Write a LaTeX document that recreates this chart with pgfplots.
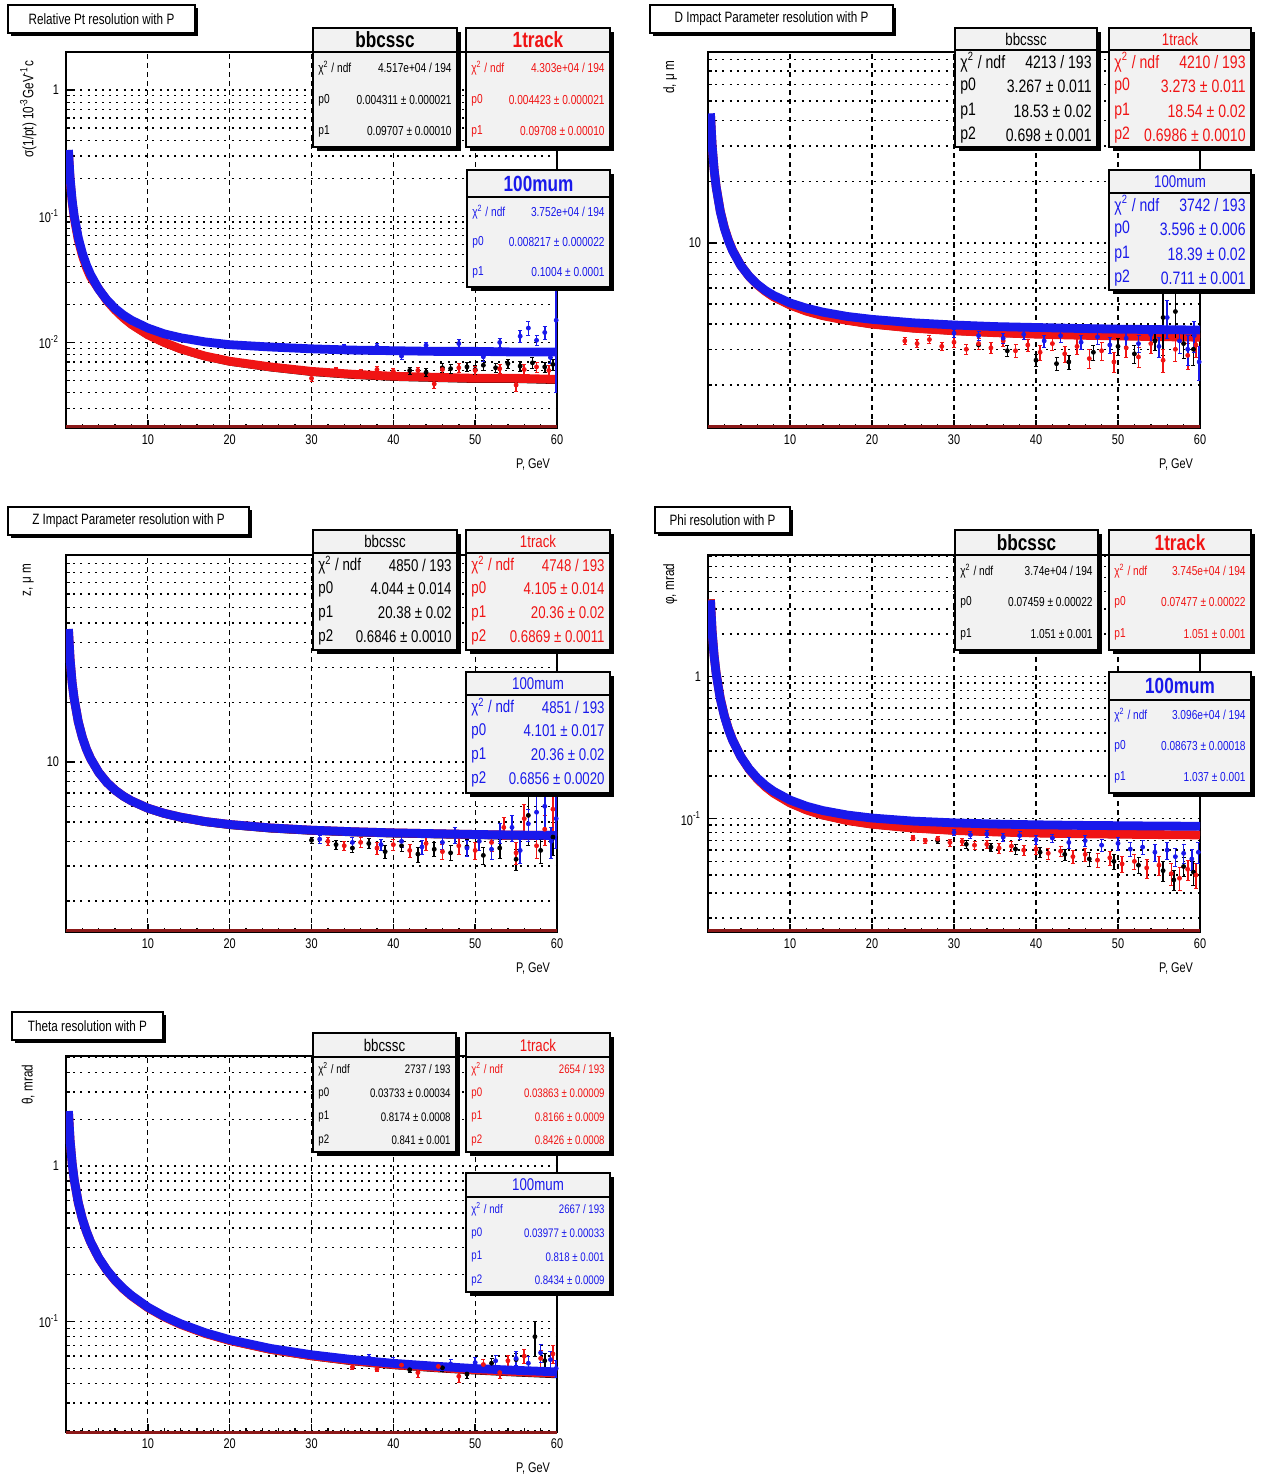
\documentclass[border=0pt]{standalone}
\usepackage{fontspec}
\setmainfont{Liberation Sans}[FakeStretch=0.78]
\usepackage{pgfplots}
\pgfplotsset{compat=1.18}
\definecolor{rred}{RGB}{240,20,20}
\definecolor{rblue}{RGB}{25,25,235}
\definecolor{fred}{RGB}{140,25,25}
\definecolor{boxgray}{RGB}{242,242,242}

\pgfplotsset{every axis/.append style={scale only axis, xmin=0, xmax=60, ymode=log,
  xtick={0,10,...,60}, xticklabels={,10,20,30,40,50,60}, minor x tick num=4,
  tick align=inside, xtick pos=left, ytick pos=left,
  major tick length=4pt, minor tick length=2.2pt,
  xmajorgrids=true, ymajorgrids=true, yminorgrids=true,
  axis line style={black, line width=1pt},
  tick style={black, line width=0.7pt},
  ticklabel style={font=\fontsize{7}{8}\selectfont},
  xlabel={P, GeV}}}
\pgfplotsset{every axis x grid/.append style={black, dash pattern=on 2.5pt off 2pt, line width=0.6pt},
  every axis y grid/.append style={black, dash pattern=on 1pt off 2.6pt, line width=0.7pt},
  every axis x label/.style={at={(rel axis cs:1,0)}, anchor=north east, yshift=-12pt, font=\fontsize{7}{8}\selectfont},
  every axis y label/.style={at={(rel axis cs:-0.077,0.995)}, rotate=90, anchor=east, font=\fontsize{7.5}{8}\selectfont}}

\newcommand\titlebox[5]{%
 \fill[black] (#1+3,#2+3) rectangle (#3+3,#4+3);
 \filldraw[fill=white,draw=black,line width=0.6pt] (#1,#2) rectangle (#3,#4);
 \node[font=\fontsize{7.5}{9}\selectfont] at ({(#1+#3)/2},{(#2+#4)/2}) {#5};}
\newcommand\statframe[7]{%
 \fill[black] (#1+4,#2+4) rectangle (#3+4,#4+4);
 \filldraw[fill=boxgray,draw=black,line width=0.7pt] (#1,#2) rectangle (#3,#4);
 \draw[black,line width=0.6pt] (#1,#5) -- (#3,#5);
 \node[text=#6] at ({(#1+#3)/2},{(#2+#5)/2}) {#7};
 \gdef\sxl{#1}\gdef\sxr{#3}\gdef\scol{#6}}
\newcommand\srow[3]{%
 \node[anchor=west,text=\scol,font=\rowfont] at (\sxl+5,#1) {#2};
 \node[anchor=east,text=\scol,font=\rowfont] at (\sxr-5,#1) {#3};}
\newcommand\hbig{\fontsize{11}{12}\selectfont\bfseries}
\newcommand\hsmall{\fontsize{8.5}{10}\selectfont}
\newcommand\chilab{χ\textsuperscript{2} / ndf}

\begin{document}
\begin{tikzpicture}
\path[use as bounding box] (0,0) rectangle (632pt,-737.5pt);

% ---------------- Panel 1 ----------------
\begin{axis}[at={(33pt,-214pt)}, anchor=south west, width=245.5pt, height=188pt,
  ymin=0.0021, ymax=2.0, ytick={0.01,0.1,1}, yticklabels={10\textsuperscript{-2},10\textsuperscript{-1},1},
  minor ytick={0.003,0.004,0.005,0.006,0.007,0.008,0.009,0.02,0.03,0.04,0.05,0.06,0.07,0.08,0.09,0.2,0.3,0.4,0.5,0.6,0.7,0.8,0.9},
  ylabel={σ(1/pt) 10\textsuperscript{-3}GeV\textsuperscript{-1}c}]
\addplot[black, line width=3.6pt, line join=round, mark=none] coordinates {(0.3,0.3236)(0.5,0.1942)(0.75,0.1295)(1,0.0972)(1.5,0.0649)(2,0.0488)(2.5,0.0392)(3,0.0330)(4,0.0264)(5,0.0213)(6,0.0180)(7,0.0156)(8,0.0138)(10,0.0114)(12,0.0099)(14,0.0088)(17,0.0077)(20,0.0070)(25,0.0063)(30,0.0058)(35,0.0055)(40,0.0053)(45,0.0052)(50,0.0051)(55,0.0051)(60,0.0050)};
\addplot[rred, line width=4.4pt, line join=round, mark=none] coordinates {(0.3,0.3236)(0.5,0.1942)(0.75,0.1295)(1,0.0972)(1.5,0.0649)(2,0.0488)(2.5,0.0392)(3,0.0330)(4,0.0265)(5,0.0214)(6,0.0181)(7,0.0157)(8,0.0139)(10,0.0115)(12,0.0100)(14,0.0089)(17,0.0078)(20,0.0071)(25,0.0064)(30,0.0059)(35,0.0056)(40,0.0054)(45,0.0053)(50,0.0052)(55,0.0052)(60,0.0051)};
\addplot[black, only marks, mark=*, mark size=1pt, error bars/.cd, y dir=both, y explicit, error bar style={line width=0.8pt}] table[x=x,y=y,y error=e] {
x y e
42 0.0060 0.0004
44 0.0058 0.0004
46 0.0063 0.0005
47 0.0062 0.0005
49 0.0064 0.0005
50 0.0061 0.0005
51 0.0066 0.0006
52.5 0.0063 0.0005
54 0.0068 0.0006
55.5 0.0065 0.0006
57 0.0069 0.0007
58.5 0.0064 0.0006
59.5 0.0067 0.0007
};
\addplot[rred, only marks, mark=*, mark size=1pt, error bars/.cd, y dir=both, y explicit, error bar style={line width=0.8pt}] table[x=x,y=y,y error=e] {
x y e
30 0.0052 0.0003
33 0.0061 0.0003
36 0.0058 0.0003
38 0.0061 0.0004
40 0.0059 0.0003
43 0.0060 0.0004
45 0.0047 0.0004
46 0.0061 0.0004
48 0.0063 0.0005
50 0.0060 0.0005
53 0.0062 0.0005
55 0.0046 0.0005
56 0.0061 0.0006
57.5 0.0064 0.0006
59 0.0060 0.0006
};
\addplot[rblue, line width=4.4pt, line join=round, mark=none] coordinates {(0.3,0.3348)(0.5,0.2010)(0.75,0.1341)(1,0.1007)(1.5,0.0674)(2,0.0509)(2.5,0.0410)(3,0.0345)(4,0.0264)(5,0.0217)(6,0.0186)(7,0.0165)(8,0.0150)(10,0.0130)(12,0.0117)(14,0.0109)(17,0.0101)(20,0.0096)(25,0.0092)(30,0.0089)(35,0.0087)(40,0.0086)(45,0.0085)(50,0.0085)(55,0.0084)(60,0.0084)};
\addplot[rblue, only marks, mark=*, mark size=1pt, error bars/.cd, y dir=both, y explicit, error bar style={line width=0.8pt}] table[x=x,y=y,y error=e] {
x y e
34 0.0092 0.0005
38 0.0093 0.0005
41 0.0078 0.0005
44 0.0095 0.0006
48 0.0098 0.0007
51 0.0077 0.0006
53 0.0100 0.0008
55.5 0.0112 0.0012
56.5 0.0130 0.0016
57.5 0.0104 0.0010
58.5 0.0120 0.0015
59.2 0.0076 0.0008
59.9 0.0150 0.0110
};
\end{axis}

% ---------------- Panel 2 ----------------
\begin{axis}[at={(354pt,-214pt)}, anchor=south west, width=246pt, height=188pt,
  ymin=1.23, ymax=87, ytick={10}, yticklabels={10},
  minor ytick={2,3,4,5,6,7,8,9,20,30,40,50,60,70,80},
  ylabel={d, μ m}]
\addplot[black, line width=3.6pt, line join=round, mark=none] coordinates {(0.3,43.0)(0.5,30.2)(0.75,22.8)(1,18.8)(1.5,14.3)(2,11.85)(2.5,10.28)(3,9.17)(4,7.74)(5,6.84)(6,6.21)(7,5.76)(8,5.41)(10,4.93)(12,4.60)(14,4.37)(17,4.14)(20,3.97)(25,3.79)(30,3.68)(35,3.60)(40,3.55)(45,3.51)(50,3.48)(55,3.45)(60,3.43)};
\addplot[rred, line width=4.4pt, line join=round, mark=none] coordinates {(0.3,43.1)(0.5,30.3)(0.75,22.9)(1,18.83)(1.5,14.35)(2,11.88)(2.5,10.31)(3,9.20)(4,7.76)(5,6.86)(6,6.23)(7,5.78)(8,5.43)(10,4.95)(12,4.62)(14,4.39)(17,4.16)(20,3.99)(25,3.81)(30,3.70)(35,3.62)(40,3.56)(45,3.52)(50,3.49)(55,3.46)(60,3.44)};
\addplot[black, only marks, mark=*, mark size=1pt, error bars/.cd, y dir=both, y explicit, error bar style={line width=0.8pt}] table[x=x,y=y,y error=e] {
x y e
33 3.15 0.15
36.5 2.95 0.18
40 2.65 0.18
42.5 2.55 0.2
44 2.60 0.2
47 2.90 0.25
50 3.10 0.3
52 2.85 0.3
54.5 3.30 0.35
55.5 4.30 1.5
57 4.60 1.6
58 3.20 0.5
59.2 3.00 0.5
};
\addplot[rred, only marks, mark=*, mark size=1pt, error bars/.cd, y dir=both, y explicit, error bar style={line width=0.8pt}] table[x=x,y=y,y error=e] {
x y e
24 3.30 0.12
25.5 3.20 0.15
27 3.35 0.15
28.5 3.10 0.15
30 3.25 0.18
31.5 3.00 0.18
33 3.20 0.2
34.5 3.05 0.2
36 3.30 0.2
37.5 2.95 0.22
39 3.15 0.22
40.5 2.90 0.25
42 3.20 0.25
43.5 2.85 0.25
45 3.10 0.28
46.5 2.70 0.28
48 2.95 0.3
49.5 2.60 0.3
51 3.05 0.3
52.5 2.75 0.32
54 3.20 0.35
55.5 2.65 0.35
57 3.00 0.38
58.5 2.80 0.4
59.5 3.15 0.4
};
\addplot[rblue, line width=4.4pt, line join=round, mark=none] coordinates {(0.3,43.4)(0.5,30.3)(0.75,22.85)(1,18.74)(1.5,14.25)(2,11.79)(2.5,10.24)(3,9.15)(4,7.75)(5,6.87)(6,6.27)(7,5.84)(8,5.52)(10,5.07)(12,4.78)(14,4.57)(17,4.35)(20,4.21)(25,4.05)(30,3.95)(35,3.88)(40,3.84)(45,3.80)(50,3.77)(55,3.75)(60,3.73)};
\addplot[rblue, only marks, mark=*, mark size=1pt, error bars/.cd, y dir=both, y explicit, error bar style={line width=0.8pt}] table[x=x,y=y,y error=e] {
x y e
30 3.60 0.15
33 3.50 0.18
36 3.40 0.2
38.5 3.55 0.2
41 3.30 0.22
43 3.50 0.25
45.5 3.25 0.25
47.5 3.45 0.28
49 3.15 0.3
51 3.40 0.3
52.5 3.20 0.32
54 3.55 0.35
55 3.10 0.35
56 4.30 0.9
57.5 3.30 0.45
58.5 3.00 0.5
59.3 3.50 0.6
59.9 2.60 0.5
};
\end{axis}

% ---------------- Panel 3 ----------------
\begin{axis}[at={(33pt,-466pt)}, anchor=south west, width=245.5pt, height=188.5pt,
  ymin=1.4, ymax=110, ytick={10}, yticklabels={10},
  minor ytick={2,3,4,5,6,7,8,9,20,30,40,50,60,70,80,90,100},
  ylabel={z, μ m}]
\addplot[black, line width=3.6pt, line join=round, mark=none] coordinates {(0.3,46.6)(0.5,33.0)(0.75,25.1)(1,20.8)(1.5,15.95)(2,13.29)(2.5,11.58)(3,10.40)(4,8.84)(5,7.86)(6,7.19)(7,6.70)(8,6.34)(10,5.82)(12,5.48)(14,5.24)(17,4.98)(20,4.81)(25,4.62)(30,4.50)(35,4.42)(40,4.36)(45,4.32)(50,4.28)(55,4.25)(60,4.23)};
\addplot[rred, line width=4.4pt, line join=round, mark=none] coordinates {(0.3,46.6)(0.5,33.0)(0.75,25.0)(1,20.8)(1.5,15.95)(2,13.31)(2.5,11.61)(3,10.43)(4,8.88)(5,7.90)(6,7.23)(7,6.75)(8,6.39)(10,5.87)(12,5.53)(14,5.29)(17,5.03)(20,4.86)(25,4.67)(30,4.55)(35,4.47)(40,4.41)(45,4.37)(50,4.33)(55,4.30)(60,4.28)};
\addplot[black, only marks, mark=*, mark size=1pt, error bars/.cd, y dir=both, y explicit, error bar style={line width=0.8pt}] table[x=x,y=y,y error=e] {
x y e
30 4.05 0.15
33 3.85 0.2
35 3.70 0.2
37 3.90 0.22
39 3.55 0.25
41 3.80 0.25
43 3.45 0.3
45 3.65 0.3
47 3.50 0.3
49 3.75 0.35
51 3.40 0.35
53 3.70 0.4
55 3.25 0.4
56.5 5.40 1.6
58 3.60 0.5
59.5 4.20 0.8
};
\addplot[rred, only marks, mark=*, mark size=1pt, error bars/.cd, y dir=both, y explicit, error bar style={line width=0.8pt}] table[x=x,y=y,y error=e] {
x y e
32 4.00 0.2
34 3.80 0.2
36 3.95 0.22
38 3.70 0.25
40 3.85 0.25
42 3.60 0.28
44 3.90 0.3
46 3.55 0.3
48 3.80 0.35
50 3.60 0.35
52 3.95 0.4
53.5 4.70 0.6
55 3.50 0.45
56 5.20 0.9
57.5 3.80 0.5
58.5 4.60 0.8
59.5 5.80 1.4
};
\addplot[rblue, line width=4.4pt, line join=round, mark=none] coordinates {(0.3,46.7)(0.5,33.0)(0.75,25.1)(1,20.8)(1.5,15.96)(2,13.31)(2.5,11.61)(3,10.43)(4,8.88)(5,7.90)(6,7.23)(7,6.75)(8,6.39)(10,5.87)(12,5.53)(14,5.29)(17,5.03)(20,4.86)(25,4.67)(30,4.55)(35,4.47)(40,4.41)(45,4.37)(50,4.33)(55,4.30)(60,4.28)};
\addplot[rblue, only marks, mark=*, mark size=1pt, error bars/.cd, y dir=both, y explicit, error bar style={line width=0.8pt}] table[x=x,y=y,y error=e] {
x y e
31 4.10 0.2
35 3.95 0.22
38.5 3.85 0.25
41 4.00 0.28
43.5 3.75 0.3
46 3.95 0.3
47.5 4.30 0.4
49 3.70 0.35
50.5 4.00 0.4
52 3.65 0.4
53 4.40 0.5
54.5 4.70 0.7
55.5 3.60 0.5
56.5 4.90 0.9
57.5 5.60 1.5
58.5 6.00 1.7
59.3 4.00 0.7
59.9 5.20 1.5
};
\end{axis}

% ---------------- Panel 4 ----------------
\begin{axis}[at={(354pt,-466pt)}, anchor=south west, width=246pt, height=188.5pt,
  ymin=0.0159, ymax=7.2, ytick={0.1,1}, yticklabels={10\textsuperscript{-1},1},
  minor ytick={0.02,0.03,0.04,0.05,0.06,0.07,0.08,0.09,0.2,0.3,0.4,0.5,0.6,0.7,0.8,0.9,2,3,4,5,6,7},
  ylabel={φ, mrad}]
\addplot[black, line width=3.6pt, line join=round, mark=none] coordinates {(0.3,3.50)(0.5,2.101)(0.75,1.401)(1,1.052)(1.5,0.7035)(2,0.5297)(2.5,0.4260)(3,0.3572)(4,0.2722)(5,0.2221)(6,0.1895)(7,0.1667)(8,0.1502)(10,0.1280)(12,0.1142)(14,0.1050)(17,0.0962)(20,0.0906)(25,0.0852)(30,0.0820)(35,0.0801)(40,0.0788)(45,0.0779)(50,0.0773)(55,0.0769)(60,0.0766)};
\addplot[rred, line width=4.4pt, line join=round, mark=none] coordinates {(0.3,3.504)(0.5,2.103)(0.75,1.403)(1,1.054)(1.5,0.7047)(2,0.5308)(2.5,0.4270)(3,0.3582)(4,0.2732)(5,0.2231)(6,0.1905)(7,0.1677)(8,0.1512)(10,0.1290)(12,0.1152)(14,0.1060)(17,0.0970)(20,0.0914)(25,0.0858)(30,0.0826)(35,0.0806)(40,0.0792)(45,0.0783)(50,0.0777)(55,0.0772)(60,0.0768)};
\addplot[black, only marks, mark=*, mark size=1pt, error bars/.cd, y dir=both, y explicit, error bar style={line width=0.8pt}] table[x=x,y=y,y error=e] {
x y e
28 0.070 0.003
31.5 0.066 0.004
34.5 0.063 0.004
37.5 0.061 0.005
40.5 0.058 0.005
43.5 0.056 0.005
46.5 0.052 0.006
49.5 0.050 0.006
52.5 0.047 0.006
55.5 0.043 0.007
56.8 0.037 0.006
58 0.046 0.007
59.2 0.042 0.008
};
\addplot[rred, only marks, mark=*, mark size=1pt, error bars/.cd, y dir=both, y explicit, error bar style={line width=0.8pt}] table[x=x,y=y,y error=e] {
x y e
25 0.073 0.003
26.5 0.070 0.003
28 0.072 0.003
29.5 0.068 0.004
31 0.069 0.004
32.5 0.065 0.004
34 0.066 0.004
35.5 0.062 0.005
37 0.064 0.005
38.5 0.060 0.005
40 0.061 0.005
41.5 0.057 0.005
43 0.059 0.005
44.5 0.054 0.006
46 0.056 0.006
47.5 0.051 0.006
49 0.053 0.006
50.5 0.048 0.006
52 0.050 0.006
53.5 0.045 0.007
55 0.047 0.007
56.5 0.041 0.007
57.5 0.038 0.007
58.5 0.044 0.007
59.5 0.040 0.008
};
\addplot[rblue, line width=4.4pt, line join=round, mark=none] coordinates {(0.3,3.458)(0.5,2.076)(0.75,1.386)(1,1.041)(1.5,0.6967)(2,0.5257)(2.5,0.4238)(3,0.3564)(4,0.2734)(5,0.2248)(6,0.1933)(7,0.1716)(8,0.1559)(10,0.1352)(12,0.1224)(14,0.1140)(17,0.1060)(20,0.1010)(25,0.0961)(30,0.0934)(35,0.0916)(40,0.0905)(45,0.0897)(50,0.0892)(55,0.0887)(60,0.0884)};
\addplot[rblue, only marks, mark=*, mark size=1pt, error bars/.cd, y dir=both, y explicit, error bar style={line width=0.8pt}] table[x=x,y=y,y error=e] {
x y e
30 0.080 0.004
32 0.077 0.004
34 0.078 0.004
36 0.074 0.005
38 0.076 0.005
40 0.071 0.005
42 0.073 0.005
44 0.068 0.006
46 0.070 0.006
48 0.065 0.006
50 0.067 0.007
51.5 0.061 0.007
53 0.063 0.007
54.5 0.058 0.008
56 0.060 0.008
57 0.054 0.008
58 0.057 0.009
59 0.052 0.009
59.8 0.058 0.010
};
\end{axis}

% ---------------- Panel 5 ----------------
\begin{axis}[at={(33pt,-716pt)}, anchor=south west, width=245.5pt, height=188pt,
  ymin=0.0195, ymax=5.1, ytick={0.1,1}, yticklabels={10\textsuperscript{-1},1},
  minor ytick={0.02,0.03,0.04,0.05,0.06,0.07,0.08,0.09,0.2,0.3,0.4,0.5,0.6,0.7,0.8,0.9,2,3,4,5},
  ylabel={θ, mrad}]
\addplot[black, line width=3.6pt, line join=round, mark=none] coordinates {(0.3,2.25)(0.5,1.463)(0.75,1.040)(1,0.817)(1.5,0.581)(2,0.4565)(2.5,0.3788)(3,0.3250)(4,0.2562)(5,0.2133)(6,0.1838)(7,0.1624)(8,0.1462)(10,0.1229)(12,0.1070)(14,0.0955)(17,0.0834)(20,0.0750)(25,0.0656)(30,0.0596)(35,0.0553)(40,0.0522)(45,0.0500)(50,0.0482)(55,0.0468)(60,0.0456)};
\addplot[rred, line width=4.4pt, line join=round, mark=none] coordinates {(0.3,2.25)(0.5,1.463)(0.75,1.040)(1,0.817)(1.5,0.581)(2,0.4565)(2.5,0.3788)(3,0.3250)(4,0.2562)(5,0.2133)(6,0.1838)(7,0.1624)(8,0.1462)(10,0.1229)(12,0.1072)(14,0.0959)(17,0.0839)(20,0.0756)(25,0.0663)(30,0.0603)(35,0.0561)(40,0.0530)(45,0.0508)(50,0.0490)(55,0.0476)(60,0.0465)};
\addplot[black, only marks, mark=*, mark size=1pt, error bars/.cd, y dir=both, y explicit, error bar style={line width=0.8pt}] table[x=x,y=y,y error=e] {
x y e
42 0.0490 0.002
46 0.0505 0.003
49 0.0460 0.003
52 0.0540 0.004
55 0.0570 0.005
57.3 0.0800 0.020
58.5 0.0560 0.006
};
\addplot[rred, only marks, mark=*, mark size=1pt, error bars/.cd, y dir=both, y explicit, error bar style={line width=0.8pt}] table[x=x,y=y,y error=e] {
x y e
35 0.0510 0.002
38 0.0495 0.002
41 0.0525 0.003
43 0.0470 0.003
45.5 0.0515 0.003
48 0.0445 0.004
51 0.0530 0.004
53 0.0470 0.004
54 0.0560 0.005
56 0.0600 0.006
58 0.0580 0.007
59.5 0.0620 0.008
};
\addplot[rblue, line width=4.4pt, line join=round, mark=none] coordinates {(0.3,2.258)(0.5,1.468)(0.75,1.044)(1,0.819)(1.5,0.5827)(2,0.4577)(2.5,0.3799)(3,0.3261)(4,0.2572)(5,0.2143)(6,0.1848)(7,0.1634)(8,0.1472)(10,0.1239)(12,0.1082)(14,0.0969)(17,0.0849)(20,0.0765)(25,0.0672)(30,0.0612)(35,0.0570)(40,0.0539)(45,0.0517)(50,0.0499)(55,0.0486)(60,0.0475)};
\addplot[rblue, only marks, mark=*, mark size=1pt, error bars/.cd, y dir=both, y explicit, error bar style={line width=0.8pt}] table[x=x,y=y,y error=e] {
x y e
37 0.0585 0.003
40 0.0555 0.003
44 0.0520 0.003
47 0.0535 0.004
50 0.0545 0.004
52.5 0.0560 0.005
55 0.0580 0.006
56.5 0.0540 0.006
58 0.0630 0.008
59.2 0.0570 0.007
59.9 0.0500 0.006
};
\end{axis}

% ---------------- annotations (pixel coordinates) ----------------
\begin{scope}[x=0.5pt, y=-0.5pt, every node/.style={inner sep=0pt}]
\draw[fred, line width=1.3pt] (66,426.5) -- (557,426.5);
\draw[fred, line width=1.3pt] (708,426.5) -- (1200,426.5);
\draw[fred, line width=1.3pt] (66,930.5) -- (557,930.5);
\draw[fred, line width=1.3pt] (708,930.5) -- (1200,930.5);
\draw[fred, line width=1.3pt] (66,1432.5) -- (557,1432.5);

\titlebox{8}{5}{195}{33}{Relative Pt resolution with P}
\titlebox{650}{5}{893}{33}{D Impact Parameter resolution with P}
\titlebox{8}{507}{249}{535}{Z Impact Parameter resolution with P}
\titlebox{655}{507}{790}{533}{Phi resolution with P}
\titlebox{12}{1012}{163}{1040}{Theta resolution with P}

% Panel 1 boxes
\def\rowfont{\fontsize{6.5}{8}\selectfont}
\statframe{313}{28}{457}{147}{52}{black}{\hbig bbcssc}
\srow{68}{\chilab}{4.517e+04 / 194}
\srow{100}{p0}{0.004311 ± 0.000021}
\srow{131}{p1}{0.09707 ± 0.00010}
\statframe{466}{28}{610}{147}{52}{rred}{\hbig 1track}
\srow{68}{\chilab}{4.303e+04 / 194}
\srow{100}{p0}{0.004423 ± 0.000021}
\srow{131}{p1}{0.09708 ± 0.00010}
\statframe{467}{170}{610}{287}{197}{rblue}{\hbig 100mum}
\srow{212}{\chilab}{3.752e+04 / 194}
\srow{242}{p0}{0.008217 ± 0.000022}
\srow{272}{p1}{0.1004 ± 0.0001}

% Panel 2 boxes
\def\rowfont{\fontsize{9}{10}\selectfont}
\statframe{955}{28}{1097}{147}{50}{black}{\hsmall bbcssc}
\srow{62}{\chilab}{4213 / 193}
\srow{86}{p0}{3.267 ± 0.011}
\srow{111}{p1}{18.53 ± 0.02}
\srow{135}{p2}{0.698 ± 0.001}
\statframe{1109}{28}{1251}{147}{50}{rred}{\hsmall 1track}
\srow{62}{\chilab}{4210 / 193}
\srow{86}{p0}{3.273 ± 0.011}
\srow{111}{p1}{18.54 ± 0.02}
\srow{135}{p2}{0.6986 ± 0.0010}
\statframe{1109}{170}{1251}{290}{193}{rblue}{\hsmall 100mum}
\srow{205}{\chilab}{3742 / 193}
\srow{229}{p0}{3.596 ± 0.006}
\srow{254}{p1}{18.39 ± 0.02}
\srow{278}{p2}{0.711 ± 0.001}

% Panel 3 boxes
\def\rowfont{\fontsize{8.5}{10}\selectfont}
\statframe{313}{530}{457}{650}{553}{black}{\hsmall bbcssc}
\srow{565}{\chilab}{4850 / 193}
\srow{589}{p0}{4.044 ± 0.014}
\srow{613}{p1}{20.38 ± 0.02}
\srow{637}{p2}{0.6846 ± 0.0010}
\statframe{466}{530}{610}{650}{553}{rred}{\hsmall 1track}
\srow{565}{\chilab}{4748 / 193}
\srow{589}{p0}{4.105 ± 0.014}
\srow{613}{p1}{20.36 ± 0.02}
\srow{637}{p2}{0.6869 ± 0.0011}
\statframe{466}{672}{610}{793}{695}{rblue}{\hsmall 100mum}
\srow{707}{\chilab}{4851 / 193}
\srow{731}{p0}{4.101 ± 0.017}
\srow{755}{p1}{20.36 ± 0.02}
\srow{779}{p2}{0.6856 ± 0.0020}

% Panel 4 boxes
\def\rowfont{\fontsize{6.5}{8}\selectfont}
\statframe{955}{530}{1098}{650}{555}{black}{\hbig bbcssc}
\srow{571}{\chilab}{3.74e+04 / 194}
\srow{602}{p0}{0.07459 ± 0.00022}
\srow{634}{p1}{1.051 ± 0.001}
\statframe{1109}{530}{1251}{650}{555}{rred}{\hbig 1track}
\srow{571}{\chilab}{3.745e+04 / 194}
\srow{602}{p0}{0.07477 ± 0.00022}
\srow{634}{p1}{1.051 ± 0.001}
\statframe{1109}{672}{1251}{793}{700}{rblue}{\hbig 100mum}
\srow{715}{\chilab}{3.096e+04 / 194}
\srow{746}{p0}{0.08673 ± 0.00018}
\srow{777}{p1}{1.037 ± 0.001}

% Panel 5 boxes
\def\rowfont{\fontsize{6.2}{8}\selectfont}
\statframe{313}{1033}{456}{1152}{1057}{black}{\hsmall bbcssc}
\srow{1069}{\chilab}{2737 / 193}
\srow{1093}{p0}{0.03733 ± 0.00034}
\srow{1117}{p1}{0.8174 ± 0.0008}
\srow{1140}{p2}{0.841 ± 0.001}
\statframe{466}{1033}{610}{1152}{1057}{rred}{\hsmall 1track}
\srow{1069}{\chilab}{2654 / 193}
\srow{1093}{p0}{0.03863 ± 0.00009}
\srow{1117}{p1}{0.8166 ± 0.0009}
\srow{1140}{p2}{0.8426 ± 0.0008}
\statframe{466}{1173}{610}{1292}{1197}{rblue}{\hsmall 100mum}
\srow{1209}{\chilab}{2667 / 193}
\srow{1233}{p0}{0.03977 ± 0.00033}
\srow{1257}{p1}{0.818 ± 0.001}
\srow{1280}{p2}{0.8434 ± 0.0009}
\end{scope}
\end{tikzpicture}
\end{document}
